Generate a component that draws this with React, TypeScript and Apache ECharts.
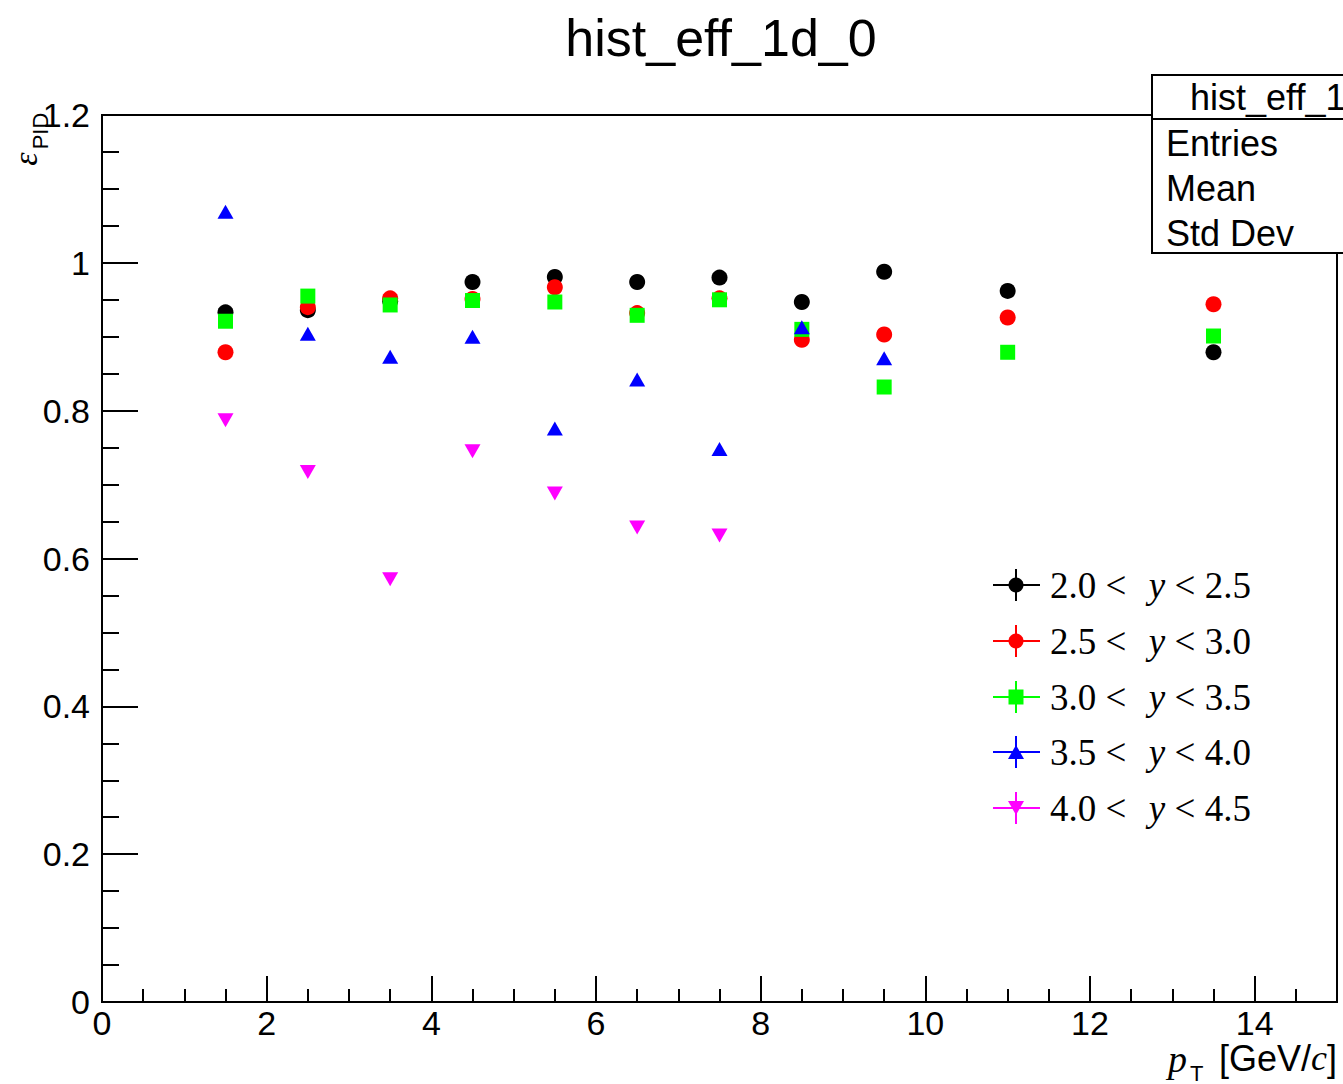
import React, { useEffect, useRef } from 'react';
import * as echarts from 'echarts';

const ptBins = [1.5, 2.5, 3.5, 4.5, 5.5, 6.5, 7.5, 8.5, 9.5, 11, 13.5];
const eff_y20_25 = [0.933, 0.936, 0.948, 0.974, 0.981, 0.974, 0.980, 0.947, 0.988, 0.962, 0.879];
const eff_y25_30 = [0.879, 0.940, 0.952, 0.951, 0.967, 0.932, 0.952, 0.896, 0.903, 0.926, 0.944];
const eff_y30_35 = [0.921, 0.955, 0.943, 0.949, 0.947, 0.929, 0.950, 0.910, 0.832, 0.879, 0.901];
const eff_y35_40 = [1.069, 0.904, 0.873, 0.900, 0.776, 0.842, 0.748, 0.913, 0.871, null, null];
const eff_y40_45 = [0.787, 0.717, 0.572, 0.745, 0.688, 0.642, 0.631, null, null, null, null];

const yLow = ['2.0', '2.5', '3.0', '3.5', '4.0'];
const yHigh = ['2.5', '3.0', '3.5', '4.0', '4.5'];
const seriesColors = ['#000000', '#ff0000', '#00ff00', '#0000ff', '#ff00ff'];
const seriesSymbols = ['circle', 'circle', 'rect', 'triangle', 'triangle'];
const seriesRotate = [0, 0, 0, 0, 180];
const seriesValues = [eff_y20_25, eff_y25_30, eff_y30_35, eff_y35_40, eff_y40_45];

const statsLabels = ['Entries', 'Mean', 'Std Dev'];

export default function App() {
  const ref = useRef<HTMLDivElement>(null);
  useEffect(() => {
    const chart = echarts.init(ref.current!, null, { renderer: 'svg' });
    const sans = 'Liberation Sans';
    const serif = 'Liberation Serif';
    const tickStyle = { color: '#000', width: 2 };

    const series = seriesValues.map((vals, k) => ({
      type: 'scatter',
      name: `${yLow[k]} < y < ${yHigh[k]}`,
      xAxisIndex: 0,
      yAxisIndex: 0,
      symbol: seriesSymbols[k],
      symbolSize: seriesSymbols[k] === 'triangle' ? [16, 14] : seriesSymbols[k] === 'rect' ? 15 : 16,
      symbolRotate: seriesRotate[k],
      itemStyle: { color: seriesColors[k], opacity: 1 },
      emphasis: { disabled: true },
      data: ptBins
        .map((x, i) => [x, vals[i]])
        .filter((d) => d[1] !== null),
      z: 2 + k,
    }));

    const legendRowY = [585, 641, 697, 752, 808];
    const legendEls: any[] = [];
    seriesColors.forEach((c, k) => {
      const y = legendRowY[k];
      const cx = 1016;
      legendEls.push({
        type: 'line', z: 100,
        shape: { x1: 993, y1: y, x2: 1040, y2: y },
        style: { stroke: c, lineWidth: 2 },
      });
      legendEls.push({
        type: 'line', z: 100,
        shape: { x1: cx, y1: y - 16, x2: cx, y2: y + 16 },
        style: { stroke: c, lineWidth: 2 },
      });
      if (seriesSymbols[k] === 'circle') {
        legendEls.push({ type: 'circle', z: 101, shape: { cx, cy: y, r: 7.5 }, style: { fill: c } });
      } else if (seriesSymbols[k] === 'rect') {
        legendEls.push({ type: 'rect', z: 101, shape: { x: cx - 7.5, y: y - 7.5, width: 15, height: 15 }, style: { fill: c } });
      } else if (seriesRotate[k] === 0) {
        legendEls.push({ type: 'polygon', z: 101, shape: { points: [[cx, y - 7], [cx + 8, y + 7], [cx - 8, y + 7]] }, style: { fill: c } });
      } else {
        legendEls.push({ type: 'polygon', z: 101, shape: { points: [[cx, y + 7], [cx + 8, y - 7], [cx - 8, y - 7]] }, style: { fill: c } });
      }
      legendEls.push({
        type: 'text', z: 101, x: 1050, y,
        style: {
          text: `{n|${yLow[k]} <  }{i|y}{n| < ${yHigh[k]}}`,
          verticalAlign: 'middle', align: 'left',
          rich: {
            n: { fontFamily: serif, fontSize: 37, fill: '#000' },
            i: { fontFamily: serif, fontSize: 37, fontStyle: 'italic', fill: '#000', padding: [0, 0, 0, 4] },
          },
        },
      });
    });

    const option: any = {
      animation: false,
      backgroundColor: '#fff',
      grid: { left: 102, top: 115, right: 6, bottom: 82, show: true, borderColor: '#000', borderWidth: 2, backgroundColor: 'transparent' },
      xAxis: [
        {
          type: 'value', position: 'bottom', min: 0, max: 15, interval: 2,
          axisLine: { show: true, lineStyle: tickStyle },
          axisTick: { show: true, inside: true, length: 26, lineStyle: tickStyle },
          axisLabel: {
            formatter: (v: number) => (v === 15 ? '' : String(v)),
            fontSize: 34, fontFamily: sans, color: '#000', margin: 4,
          },
          splitLine: { show: false },
        },
        {
          type: 'value', position: 'bottom', min: 0, max: 15, interval: 0.5,
          axisLine: { show: false },
          axisTick: { show: true, inside: true, length: 13, lineStyle: tickStyle },
          axisLabel: { show: false },
          splitLine: { show: false },
        },
      ],
      yAxis: {
        type: 'value', min: 0, max: 1.2, interval: 0.2,
        axisLine: { show: true, lineStyle: tickStyle },
        axisTick: { show: true, inside: true, length: 36, lineStyle: tickStyle },
        minorTick: { show: true, splitNumber: 4, length: 17, lineStyle: tickStyle },
        axisLabel: { fontSize: 34, fontFamily: sans, color: '#000', margin: 12 },
        splitLine: { show: false },
        minorSplitLine: { show: false },
      },
      series,
      graphic: [
        {
          type: 'text', z: 100, x: 721, y: 38,
          style: { text: 'hist_eff_1d_0', fontFamily: sans, fontSize: 52, fill: '#000', align: 'center', verticalAlign: 'middle' },
        },
        {
          type: 'rect', z: 100,
          shape: { x: 1152, y: 75, width: 240, height: 178 },
          style: { fill: '#fff', stroke: '#000', lineWidth: 2 },
        },
        {
          type: 'line', z: 101,
          shape: { x1: 1152, y1: 119, x2: 1343, y2: 119 },
          style: { stroke: '#000', lineWidth: 2 },
        },
        {
          type: 'text', z: 101, x: 1190, y: 97,
          style: { text: 'hist_eff_1d_0', fontFamily: sans, fontSize: 36, fill: '#000', align: 'left', verticalAlign: 'middle' },
        },
        ...statsLabels.map((t, i) => ({
          type: 'text', z: 101, x: 1166, y: 143 + i * 45,
          style: { text: t, fontFamily: sans, fontSize: 36, fill: '#000', align: 'left', verticalAlign: 'middle' },
        })),
        // y-axis title
        {
          type: 'text', z: 100, x: 25, y: 159, rotation: Math.PI / 2,
          style: { text: 'ε', fontFamily: serif, fontStyle: 'italic', fontSize: 34, fill: '#000', align: 'center', verticalAlign: 'middle' },
        },
        {
          type: 'text', z: 100, x: 40, y: 131, rotation: Math.PI / 2,
          style: { text: 'PID', fontFamily: sans, fontSize: 22, fill: '#000', align: 'center', verticalAlign: 'middle' },
        },
        // x-axis title
        {
          type: 'text', z: 100, x: 1168, y: 1059,
          style: { text: 'p', fontFamily: serif, fontStyle: 'italic', fontSize: 38, fill: '#000', align: 'left', verticalAlign: 'middle' },
        },
        {
          type: 'text', z: 100, x: 1190, y: 1073,
          style: { text: 'T', fontFamily: sans, fontSize: 22, fill: '#000', align: 'left', verticalAlign: 'middle' },
        },
        {
          type: 'text', z: 100, x: 1337, y: 1058,
          style: {
            text: '{a|[GeV/}{c|c}{a|]}', align: 'right', verticalAlign: 'middle',
            rich: {
              a: { fontFamily: sans, fontSize: 36, fill: '#000' },
              c: { fontFamily: serif, fontStyle: 'italic', fontSize: 36, fill: '#000' },
            },
          },
        },
        ...legendEls,
      ],
    };
    chart.setOption(option);
    return () => chart.dispose();
  }, []);
  return (
    <div
      ref={ref}
      style={{ position: 'fixed', left: 0, top: 0, width: 1343, height: 1084, background: '#fff' }}
    />
  );
}
